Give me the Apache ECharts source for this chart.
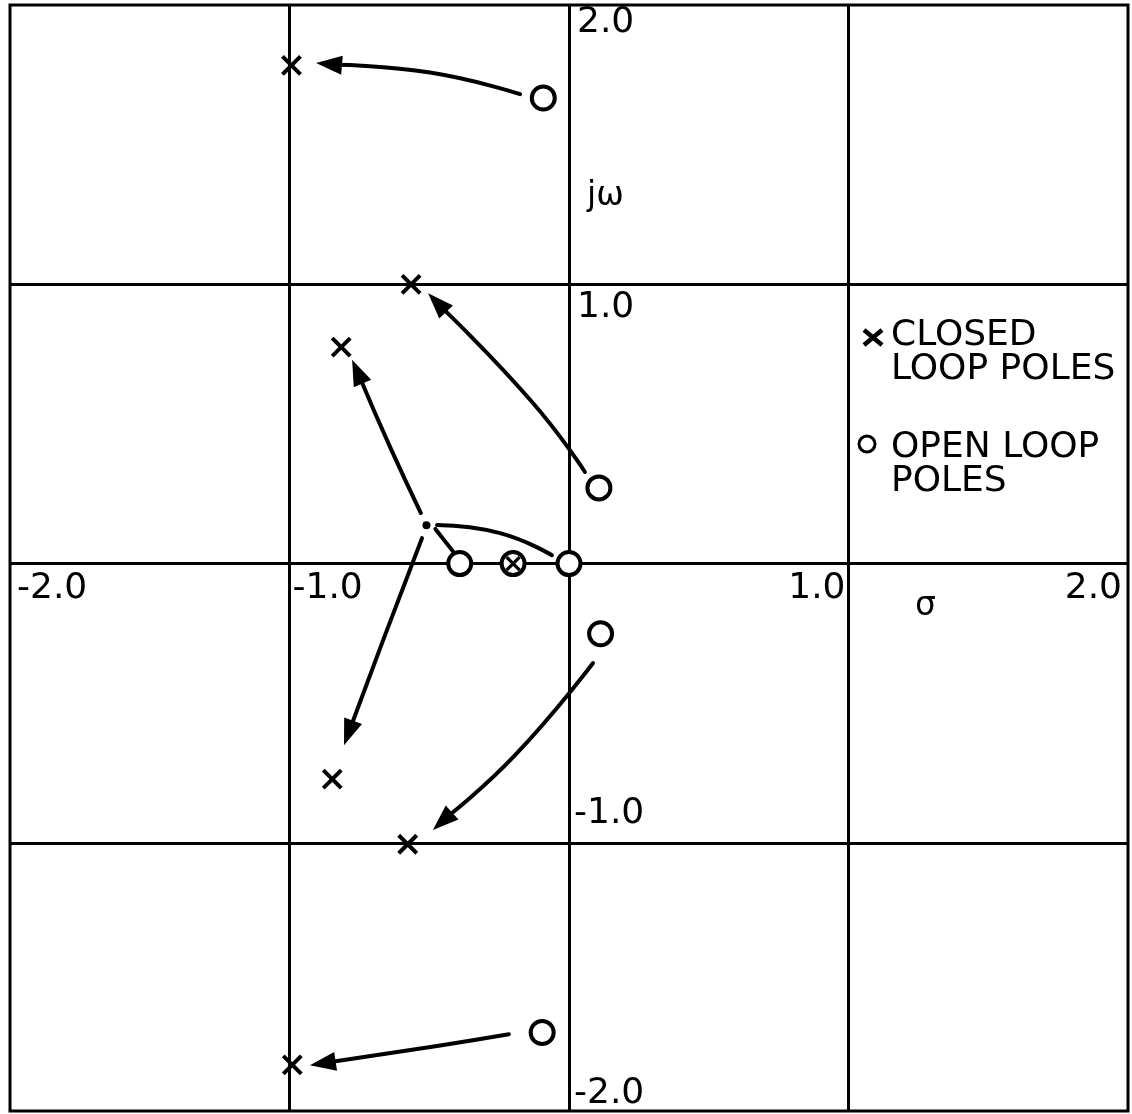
<!DOCTYPE html>
<html>
<head>
<meta charset="utf-8">
<script src="https://cdn.jsdelivr.net/npm/echarts@6/dist/echarts.min.js"></script>
<style>
html, body { margin: 0; padding: 0; background: #fff; }
#chart { width: 1132px; height: 1114px; }
</style>
</head>
<body>
<div id="chart"></div>
<script>
// Root locus in the s-plane (sigma horizontal, j-omega vertical).
const openLoopPoles = [[-0.092, 1.667], [0.107, 0.271], [-0.391, 0], [0, 0], [0.113, -0.251], [-0.096, -1.679]];
const closedLoopPoles = [[-0.993, 1.784], [-0.565, 1.0], [-0.815, 0.775], [-0.847, -0.772], [-0.577, -1.005], [-0.99, -1.795]];
const poleOnZero = [[-0.2, 0]];
const breakawayPoint = [[-0.51, 0.137]];

// Locus branches, listed from the open-loop end to the closed-loop end.
const locusUpperOuter = [[-0.175, 1.681], [-0.497, 1.758], [-0.905, 1.792]];
const locusUpperInner = [[0.057, 0.328], [-0.129, 0.575], [-0.504, 0.968]];
const locusBranchUp = [[-0.530, 0.181], [-0.640, 0.417], [-0.776, 0.730]];
const locusBranchDown = [[-0.526, 0.091], [-0.665, -0.274], [-0.805, -0.650]];
const locusFromOrigin = [[-0.061, 0.030], [-0.247, 0.109], [-0.472, 0.138]];
const locusFromReal = [[-0.413, 0.041], [-0.478, 0.124]];
const locusLowerInner = [[0.086, -0.356], [-0.193, -0.686], [-0.487, -0.954]];
const locusLowerOuter = [[-0.215, -1.685], [-0.472, -1.727], [-0.927, -1.796]];

const arrowedLoci = [locusUpperOuter, locusUpperInner, locusBranchUp, locusBranchDown, locusLowerInner, locusLowerOuter];
const plainLoci = [locusFromOrigin, locusFromReal];

// Axis ticks and grid
const xTicks = [-2, -1, 1, 2];
const yTicks = [2, 1, -1, -2];
const gridValues = [-1, 0, 1];

const FONT = 'DejaVu Sans';
const INK = '#000';

function locusSeries(points, withArrow) {
  return {
    type: 'custom',
    coordinateSystem: 'cartesian2d',
    silent: true,
    z: 3,
    data: points,
    renderItem(params, api) {
      if (params.dataIndex !== 0) return null;
      const px = points.map(p => api.coord(p));
      const children = [];
      let linePts = px;
      if (withArrow) {
        const tip = px[px.length - 1];
        const prev = px[px.length - 2];
        let dx = tip[0] - prev[0], dy = tip[1] - prev[1];
        const d = Math.hypot(dx, dy);
        dx /= d; dy /= d;
        const L = 26, W = 9.5;
        const base = [tip[0] - dx * L, tip[1] - dy * L];
        const lineEnd = [tip[0] - dx * (L - 5), tip[1] - dy * (L - 5)];
        linePts = px.slice(0, -1).concat([lineEnd]);
        children.push({
          type: 'polygon',
          shape: { points: [tip, [base[0] - dy * W, base[1] + dx * W], [base[0] + dy * W, base[1] - dx * W]] },
          style: { fill: INK }
        });
      }
      children.unshift({
        type: 'polyline',
        shape: { points: linePts, smooth: 0.5 },
        style: { stroke: INK, lineWidth: 4, fill: null, lineCap: 'round' }
      });
      return { type: 'group', children };
    }
  };
}

function crossShape(c, h, w) {
  return [
    { type: 'line', shape: { x1: c[0] - h, y1: c[1] - h, x2: c[0] + h, y2: c[1] + h }, style: { stroke: INK, lineWidth: w } },
    { type: 'line', shape: { x1: c[0] - h, y1: c[1] + h, x2: c[0] + h, y2: c[1] - h }, style: { stroke: INK, lineWidth: w } }
  ];
}

const tickLabelStyle = { show: true, color: INK, opacity: 1, fontFamily: FONT, fontSize: 36, position: 'inside' };

const xTickData = xTicks.map(v => ({
  value: [v, 0],
  label: Object.assign({}, tickLabelStyle, {
    formatter: v.toFixed(1),
    align: v < 0 ? 'left' : 'right',
    verticalAlign: 'middle',
    offset: [v === -2 ? 7 : v === -1 ? 3 : v === 1 ? -3 : -6, 25]
  })
}));

const yTickData = yTicks.map(v => ({
  value: [0, v],
  label: Object.assign({}, tickLabelStyle, {
    formatter: v.toFixed(1),
    align: 'left',
    verticalAlign: 'middle',
    offset: [v > 0 ? 8 : 5, v === 2 ? 18 : v === 1 ? 23 : -29]
  })
}));

const series = [
  {
    name: 'grid',
    type: 'scatter',
    data: xTickData.concat(yTickData),
    symbol: 'circle',
    symbolSize: 1,
    itemStyle: { color: 'rgba(0,0,0,0)', opacity: 1 },
    silent: true,
    clip: false,
    z: 1,
    markLine: {
      silent: true,
      symbol: ['none', 'none'],
      label: { show: false },
      lineStyle: { color: INK, width: 3, type: 'solid', opacity: 1 },
      data: gridValues.map(v => ({ xAxis: v })).concat(gridValues.map(v => ({ yAxis: v })))
    }
  }
];

arrowedLoci.forEach(l => series.push(locusSeries(l, true)));
plainLoci.forEach(l => series.push(locusSeries(l, false)));

series.push({
  name: 'OPEN LOOP POLES',
  type: 'scatter',
  data: openLoopPoles,
  symbol: 'circle',
  symbolSize: 23,
  itemStyle: { color: '#fff', borderColor: INK, borderWidth: 4, opacity: 1 },
  silent: true,
  z: 5
});

series.push({
  name: 'CLOSED LOOP POLES',
  type: 'custom',
  coordinateSystem: 'cartesian2d',
  data: closedLoopPoles,
  silent: true,
  z: 5,
  renderItem(params, api) {
    const c = api.coord([api.value(0), api.value(1)]);
    return { type: 'group', children: crossShape(c, 9, 4) };
  }
});

series.push({
  name: 'pole on zero',
  type: 'custom',
  coordinateSystem: 'cartesian2d',
  data: poleOnZero,
  silent: true,
  z: 5,
  renderItem(params, api) {
    const c = api.coord([api.value(0), api.value(1)]);
    return {
      type: 'group',
      children: [
        { type: 'circle', shape: { cx: c[0], cy: c[1], r: 11.5 }, style: { fill: '#fff', stroke: INK, lineWidth: 4 } }
      ].concat(crossShape(c, 6.5, 3.2))
    };
  }
});

series.push({
  name: 'breakaway',
  type: 'scatter',
  data: breakawayPoint,
  symbol: 'circle',
  symbolSize: 8,
  itemStyle: { color: INK, opacity: 1 },
  silent: true,
  z: 5
});

const chart = echarts.init(document.getElementById('chart'), null, { renderer: 'canvas' });
chart.setOption({
  animation: false,
  backgroundColor: '#fff',
  textStyle: { fontFamily: FONT },
  grid: { left: 10, top: 5, width: 1118, height: 1106, show: true, borderColor: INK, borderWidth: 3, backgroundColor: '#fff' },
  xAxis: {
    type: 'value', min: -2, max: 2,
    axisLine: { show: false }, axisTick: { show: false }, axisLabel: { show: false }, splitLine: { show: false }
  },
  yAxis: {
    type: 'value', min: -1.96, max: 2.0,
    axisLine: { show: false }, axisTick: { show: false }, axisLabel: { show: false }, splitLine: { show: false }
  },
  graphic: [
    { type: 'text', left: 587, top: 180, style: { text: 'jω', font: '33px "DejaVu Sans"', fill: INK } },
    { type: 'text', left: 915, top: 590, style: { text: 'σ', font: '33px "DejaVu Sans"', fill: INK } },
    // Key
    { type: 'line', shape: { x1: 864, y1: 330, x2: 882, y2: 345 }, style: { stroke: INK, lineWidth: 4.5 } },
    { type: 'line', shape: { x1: 864, y1: 345, x2: 882, y2: 330 }, style: { stroke: INK, lineWidth: 4.5 } },
    { type: 'text', left: 891, top: 318, style: { text: 'CLOSED\nLOOP POLES', font: '36px "DejaVu Sans"', lineHeight: 34, fill: INK } },
    { type: 'circle', shape: { cx: 867, cy: 444, r: 8 }, style: { fill: '#fff', stroke: INK, lineWidth: 3 } },
    { type: 'text', left: 891, top: 430, style: { text: 'OPEN LOOP\nPOLES', font: '36px "DejaVu Sans"', lineHeight: 34, fill: INK } }
  ],
  series
});
</script>
</body>
</html>
